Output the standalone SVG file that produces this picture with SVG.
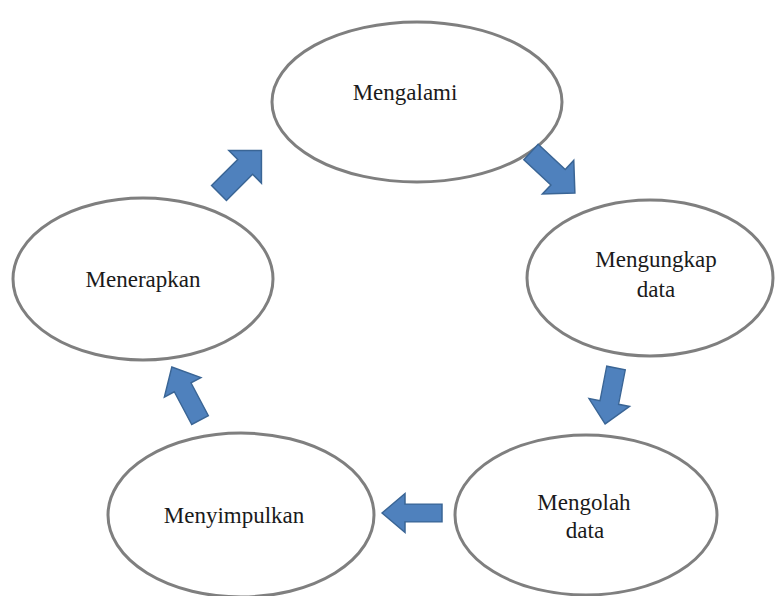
<svg xmlns="http://www.w3.org/2000/svg" xmlns:xlink="http://www.w3.org/1999/xlink" width="776" height="596" viewBox="0 0 776 596">
<style>
.node ellipse{fill:#ffffff;stroke:#7f7f7f;stroke-width:3}
.node text{font-family:'Liberation Serif','Times New Roman',Times,'Noto Serif','DejaVu Serif',serif;font-size:23px;fill:#1a1a1a;text-anchor:middle}
.arrow{fill:#4f81bd;stroke:#3a6595;stroke-width:1.5;stroke-linejoin:miter}
</style>
<defs>
<path id="arr" d="M0,-10.5 L37,-10.5 L37,-23 L60,0 L37,23 L37,10.5 L0,10.5 Z"/>
</defs>
<rect width="776" height="596" fill="#ffffff"/>
<g id="n1" class="node">
<ellipse cx="417" cy="102" rx="145" ry="80"/>
<text x="405" y="100" font-family="Liberation Serif, serif">Mengalami</text>
</g>
<g id="n2" class="node">
<ellipse cx="650" cy="278" rx="123" ry="78"/>
<text x="656" y="267" font-family="Liberation Serif, serif">Mengungkap</text>
<text x="656" y="297" font-family="Liberation Serif, serif">data</text>
</g>
<g id="n3" class="node">
<ellipse cx="586" cy="515" rx="131" ry="80"/>
<text x="584" y="510" font-family="Liberation Serif, serif">Mengolah</text>
<text x="585" y="538" font-family="Liberation Serif, serif">data</text>
</g>
<g id="n4" class="node">
<ellipse cx="241" cy="515" rx="133" ry="82"/>
<text x="234" y="523" font-family="Liberation Serif, serif">Menyimpulkan</text>
</g>
<g id="n5" class="node">
<ellipse cx="143" cy="279" rx="130" ry="81"/>
<text x="143" y="287" font-family="Liberation Serif, serif">Menerapkan</text>
</g>
<g id="connectors">
<use xlink:href="#arr" class="arrow" transform="translate(219,193) rotate(-45)"/>
<use xlink:href="#arr" class="arrow" transform="translate(531,152) rotate(43)"/>
<use xlink:href="#arr" class="arrow" transform="translate(616,368) rotate(101) scale(0.95,0.9)"/>
<use xlink:href="#arr" class="arrow" transform="translate(442,513) rotate(180) scale(1,0.85)"/>
<use xlink:href="#arr" class="arrow" transform="translate(200,420) rotate(-118) scale(1,0.9)"/>
</g>
</svg>
